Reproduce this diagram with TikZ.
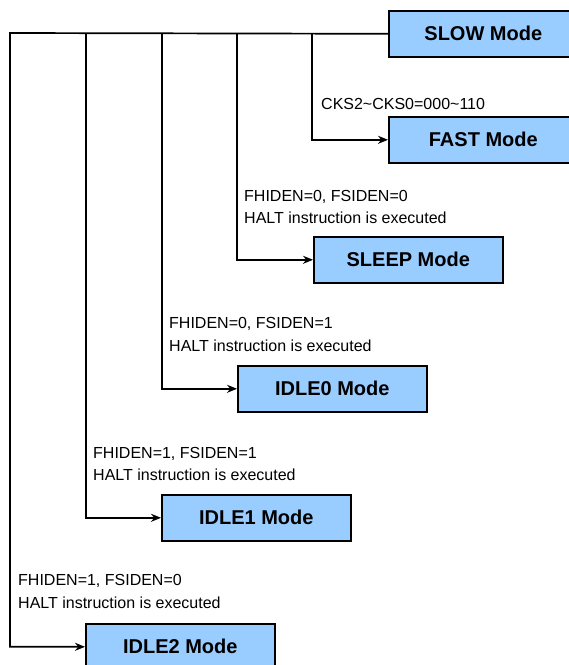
\documentclass[tikz,border=0pt]{standalone}
\usepackage{fontspec}
\setmainfont{Liberation Sans}
\usetikzlibrary{arrows.meta}
\definecolor{boxblue}{RGB}{153,204,255}
\tikzset{
  modebox/.style={draw=black, line width=1.6pt, fill=boxblue, minimum width=189pt, minimum height=46pt, inner sep=0pt, anchor=north west, font=\fontsize{20}{24}\selectfont\bfseries},
  lbl/.style={anchor=base west, inner sep=0pt, font=\fontsize{16}{20}\selectfont},
  wire/.style={line width=1.7pt, draw=black},
  arr/.style={wire, -{Stealth[length=10pt,width=8pt]}}
}
\begin{document}
\begin{tikzpicture}[x=1pt,y=-1pt]
\useasboundingbox (0,0) rectangle (569,665);
\node[modebox] (slow)  at (388,10)  {SLOW Mode};
\node[modebox] (fast)  at (388,116) {FAST Mode};
\node[modebox] (sleep) at (313,236) {SLEEP Mode};
\node[modebox] (idle0) at (237,365) {IDLE0 Mode};
\node[modebox] (idle1) at (161,494) {IDLE1 Mode};
\node[modebox] (idle2) at (85,623)  {IDLE2 Mode};

\coordinate (t0) at (10,33);
\coordinate (t1) at (86,33);
\coordinate (t2) at (162,33);
\coordinate (t3) at (237,33);
\coordinate (t4) at (312,33);

\draw[arr] (slow.west) -- (t0) |- (idle2.west);
\draw[arr] (t4) |- (fast.west);
\draw[arr] (t3) |- (sleep.west);
\draw[arr] (t2) |- (idle0.west);
\draw[arr] (t1) |- (idle1.west);

\node[lbl] (lfast) at (321,109) {CKS2\char`~CKS0=000\char`~110};
\node[lbl] (lsleepa) at (244,201) {FHIDEN=0, FSIDEN=0};
\node[lbl] (lsleepb) at (244,223) {HALT instruction is executed};
\node[lbl] (lidle0a) at (169,328) {FHIDEN=0, FSIDEN=1};
\node[lbl] (lidle0b) at (169,351) {HALT instruction is executed};
\node[lbl] (lidle1a) at (93,458) {FHIDEN=1, FSIDEN=1};
\node[lbl] (lidle1b) at (93,480) {HALT instruction is executed};
\node[lbl] (lidle2a) at (18,585) {FHIDEN=1, FSIDEN=0};
\node[lbl] (lidle2b) at (18,608) {HALT instruction is executed};
\end{tikzpicture}
\end{document}
